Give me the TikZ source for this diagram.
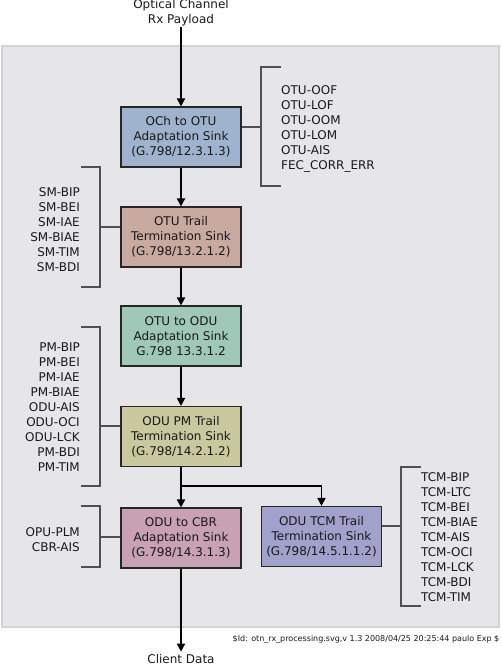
\documentclass[tikz,border=0pt]{standalone}
\usepackage{fontspec}
\setmainfont{DejaVu Sans}
\usetikzlibrary{arrows.meta}
\definecolor{bgfill}{HTML}{E6E6E9}
\definecolor{bgline}{HTML}{D2D2D2}
\definecolor{cA}{HTML}{9FB3CE}
\definecolor{cB}{HTML}{C9AAA1}
\definecolor{cC}{HTML}{9FC8B6}
\definecolor{cD}{HTML}{C9C89F}
\definecolor{cE}{HTML}{C9A1B4}
\definecolor{cF}{HTML}{A1A1CC}
\definecolor{brkc}{HTML}{505050}
\tikzset{
  blk/.style={draw=black!85, line width=1.1pt, minimum width=120pt, minimum height=60pt,
    inner sep=1pt, align=center, font=\fontsize{12}{15}\selectfont, text=black!90},
  lst/.style={inner sep=0pt, font=\fontsize{12}{15}\selectfont, text=black!90},
  lbl/.style={inner sep=0pt, align=center, font=\fontsize{12}{15}\selectfont, text=black!90},
  arr/.style={line width=1.8pt, -{Triangle[length=8pt,width=8pt]}},
  brk/.style={draw=brkc, line width=1.3pt},
}
\begin{document}
\begin{tikzpicture}[x=1pt,y=-1pt]
\useasboundingbox (0,0) rectangle (501,667);
\draw[bgline, fill=bgfill, line width=2pt] (2,46) rectangle (499,627);

\node[lbl] (in) at (181,13) {Optical Channel\\Rx Payload};
\node[lbl] (out) at (181,659.5) {Client Data};

\node[blk, fill=cA] (b1) at (181,137) {OCh to OTU\\Adaptation Sink\\(G.798/12.3.1.3)};
\node[blk, fill=cB] (b2) at (181,237) {OTU Trail\\Termination Sink\\(G.798/13.2.1.2)};
\node[blk, fill=cC] (b3) at (181,336) {OTU to ODU\\Adaptation Sink\\G.798 13.3.1.2};
\node[blk, fill=cD] (b4) at (181,436.5) {ODU PM Trail\\Termination Sink\\(G.798/14.2.1.2)};
\node[blk, fill=cE] (b5) at (181,538) {ODU to CBR\\Adaptation Sink\\(G.798/14.3.1.3)};
\node[blk, fill=cF] (b6) at (321.5,536.5) {ODU TCM Trail\\Termination Sink\\(G.798/14.5.1.1.2)};

% lists
\node[lst, anchor=west, align=left] (l1) at (281,128.5) {OTU-OOF\\OTU-LOF\\OTU-OOM\\OTU-LOM\\OTU-AIS\\FEC\_CORR\_ERR};
\node[lst, anchor=east, align=right] (l2) at (80,229.5) {SM-BIP\\SM-BEI\\SM-IAE\\SM-BIAE\\SM-TIM\\SM-BDI};
\node[lst, anchor=east, align=right] (l4) at (80,407.5) {PM-BIP\\PM-BEI\\PM-IAE\\PM-BIAE\\ODU-AIS\\ODU-OCI\\ODU-LCK\\PM-BDI\\PM-TIM};
\node[lst, anchor=east, align=right] (l5) at (80,539.5) {OPU-PLM\\CBR-AIS};
\node[lst, anchor=west, align=left] (l6) at (421,536.7) {TCM-BIP\\TCM-LTC\\TCM-BEI\\TCM-BIAE\\TCM-AIS\\TCM-OCI\\TCM-LCK\\TCM-BDI\\TCM-TIM};

% brackets
\draw[brk] (281,67) -| (261,186) -- (281,186);
\draw[brk] (261,127) -- (b1.east |- 0,127);
\draw[brk] (81,167) -| (100,287) -- (81,287);
\draw[brk] (100,227) -- (b2.west |- 0,227);
\draw[brk] (81,327) -| (100,486) -- (81,486);
\draw[brk] (100,426) -- (b4.west |- 0,426);
\draw[brk] (81,506) -| (100,567) -- (81,567);
\draw[brk] (100,537) -- (b5.west |- 0,537);
\draw[brk] (421,467) -| (401,606) -- (421,606);
\draw[brk] (401,526) -- (b6.east |- 0,526);

% arrows
\draw[arr] (in.south) -- (b1.north);
\draw[arr] (b1.south) -- (b2.north);
\draw[arr] (b2.south) -- (b3.north);
\draw[arr] (b3.south) -- (b4.north);
\draw[arr] (b4.south) -- (b5.north);
\coordinate (split) at (181,486);
\draw[arr] (split) -| (b6.north);
\draw[arr, shorten >=3pt] (b5.south) -- (out.north);

\node[inner sep=0pt, anchor=east, font=\fontsize{8}{9}\selectfont, text=black!90] (id) at (499.5,639.5) {\$Id: otn\_rx\_processing.svg,v 1.3 2008/04/25 20:25:44 paulo Exp \$};
\end{tikzpicture}
\end{document}
